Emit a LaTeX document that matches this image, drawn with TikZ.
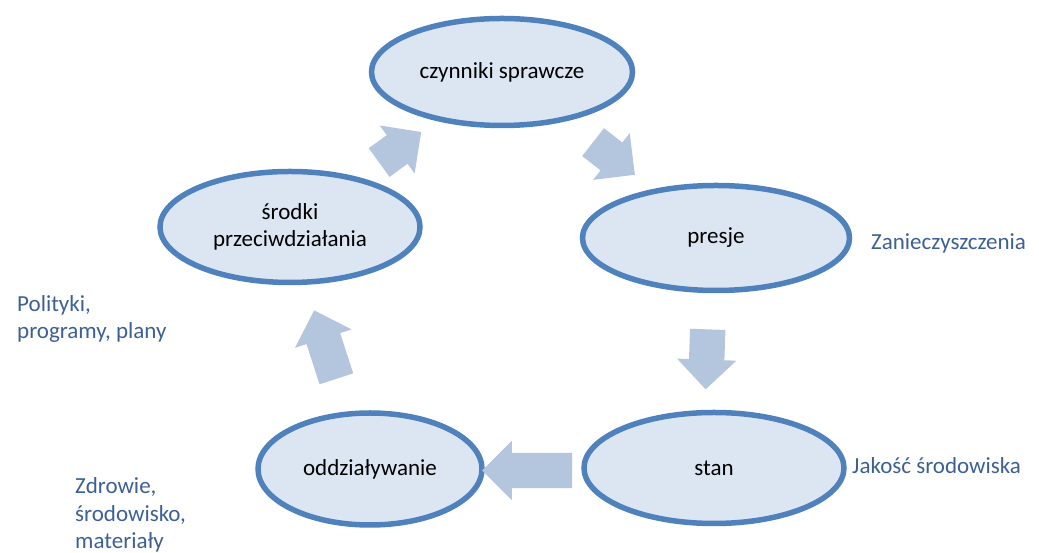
\documentclass[tikz,border=0pt]{standalone}
\usepackage{fontspec}
\setmainfont{Carlito}
\usetikzlibrary{shapes.geometric, shapes.arrows, positioning, calc}
\definecolor{rimblue}{RGB}{79,129,189}
\definecolor{fillblue}{RGB}{220,230,242}
\definecolor{arrowblue}{RGB}{180,197,222}
\definecolor{noteblue}{RGB}{60,96,150}

\begin{document}
\begin{tikzpicture}[x=1pt, y=1pt,
        phase/.style={ellipse, draw=rimblue, line width=5.5pt, fill=fillblue, inner sep=0pt, align=center, font=\fontsize{23}{27.5}\selectfont},
        flow/.style={single arrow, draw=none, fill=arrowblue, inner xsep=0pt, inner ysep=17.5pt, minimum width=59pt, single arrow head extend=12pt, single arrow tip angle=90, single arrow head indent=0pt},
        note/.style={text=noteblue, inner sep=0pt, align=left, anchor=west, font=\fontsize{23}{27.5}\selectfont}
    ]
        \useasboundingbox (0,0) rectangle (1039,553);

        % Nodes
        \node [phase, minimum width=261pt, minimum height=107pt] (drivers) at (502,481) {czynniki sprawcze};
        \node [phase, minimum width=267pt, minimum height=105pt] (pressure) at (716,315) {presje};
        \node [phase, minimum width=260pt, minimum height=111pt] (state) at (714,85) {stan};
        \node [phase, minimum width=224pt, minimum height=112pt] (impact) at (370,84) {oddziaływanie};
        \node [phase, minimum width=260pt, minimum height=111pt] (response) at (290,326) {środki\\przeciwdziałania};

        % Arrows
        \node [flow, minimum height=52pt, xshift=-3pt, yshift=-3pt, rotate=36] (arrow1) at ($(response)!0.5!(drivers)$) {};
        \node [flow, minimum height=53pt, xshift=-2pt, yshift=2pt, rotate=-38] (arrow2) at ($(drivers)!0.5!(pressure)$) {};
        \node [flow, minimum height=60pt, xshift=-8pt, yshift=1pt, rotate=-92] (arrow3) at ($(pressure.south)!0.5!(state.north)$) {};
        \node [flow, minimum height=90pt, xshift=3pt, yshift=-2pt, rotate=180] (arrow4) at ($(state.west)!0.5!(impact.east)$) {};
        \node [flow, minimum height=72pt, xshift=-2pt, yshift=-5pt, rotate=108] (arrow5) at ($(impact)!0.5!(response)$) {};

        % Labels
        \node [note] (pollution) at (871,310) {Zanieczyszczenia};
        \node [note] (quality) at (852,87) {Jakość środowiska};
        \node [note] (policies) at (17,234) {Polityki,\\programy, plany};
        \node [note] (health) at (75,38) {Zdrowie,\\środowisko,\\materiały};
    \end{tikzpicture}
\end{document}
